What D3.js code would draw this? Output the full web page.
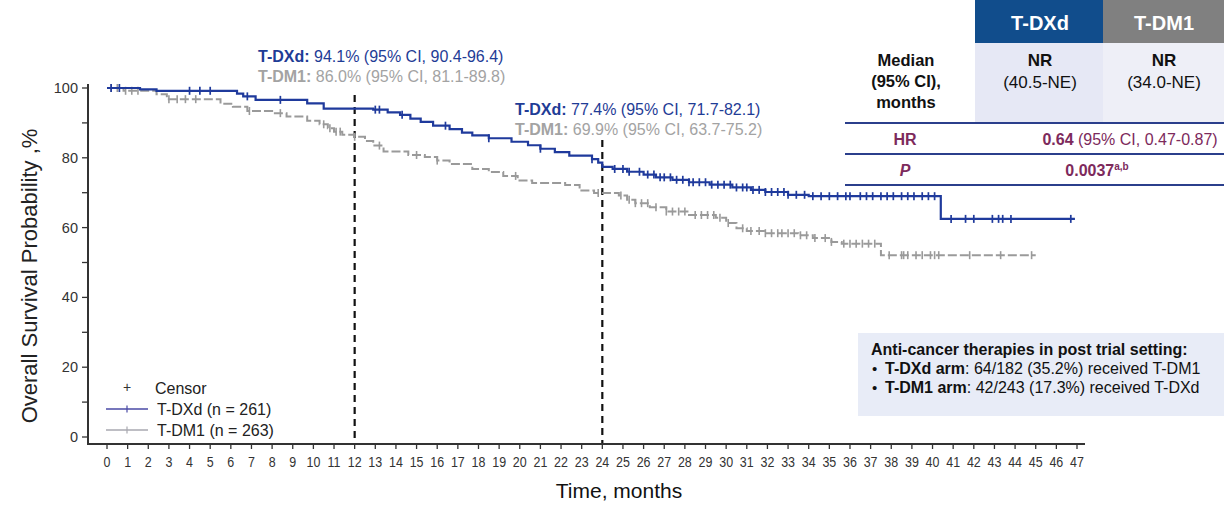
<!DOCTYPE html>
<html><head><meta charset="utf-8">
<script src="https://cdn.jsdelivr.net/npm/d3@7"></script>
<style>
html,body{margin:0;padding:0;background:#fff;}
svg{display:block;font-family:"Liberation Sans",Arial,sans-serif;}
</style></head>
<body>
<svg id="chart" width="1224" height="505"></svg>
<script>
// ---- data ----
const xTicks = d3.range(0, 48);
const yTicksMajor = [0, 20, 40, 60, 80, 100];
const yTicksMinor = [10, 30, 50, 70, 90];
const landmarks = [12, 24];

const dxdTimes = [0, 1.6, 2.4, 6.3, 6.6, 7.2, 9.7, 10.5, 12.9, 13.6, 14.2, 14.7, 15.2, 15.8, 16.6, 17.2, 17.7, 18.5, 19.6, 20.4, 21.0, 21.7, 22.4, 23.5, 23.8, 24.0, 24.5, 25.2, 26.0, 26.6, 27.4, 28.2, 29.2, 30.3, 31.2, 31.9, 33.0, 34.0, 40.4, 46.9];
const dxdSurv  = [100, 99.6, 99.2, 98.4, 97.6, 96.6, 95.6, 94.1, 93.8, 93.0, 92.3, 91.2, 90.3, 89.2, 88.2, 87.2, 86.4, 85.6, 84.6, 83.6, 82.6, 81.6, 80.6, 79.6, 78.6, 77.4, 76.8, 76.0, 75.2, 74.4, 73.7, 73.0, 72.3, 71.5, 70.8, 70.2, 69.4, 69.0, 62.5, 62.5];
const dxdCensor = [0.2, 0.6, 4.0, 4.5, 5.0, 6.8, 8.4, 13.0, 13.2, 14.3, 16.4, 18.5, 21.0, 23.5, 24.6, 25.0, 25.3, 25.8, 26.2, 26.5, 26.8, 27.0, 27.3, 27.6, 27.9, 28.2, 28.4, 28.7, 29.0, 29.3, 29.6, 29.9, 30.2, 30.5, 30.8, 31.0, 31.3, 31.6, 31.9, 32.2, 32.5, 32.8, 33.0, 33.4, 33.8, 34.2, 34.6, 35.0, 35.4, 35.8, 36.0, 36.5, 36.8, 37.1, 37.5, 37.8, 38.1, 38.5, 38.8, 39.1, 39.5, 39.8, 40.1, 40.9, 41.6, 42.0, 42.9, 43.2, 43.4, 43.8, 46.7];

const dm1Times = [0, 0.8, 2.4, 2.9, 5.5, 6.1, 6.8, 8.0, 8.7, 9.7, 10.3, 10.7, 11.0, 11.4, 12.0, 12.5, 12.9, 13.4, 14.6, 15.4, 16.0, 16.6, 17.7, 18.5, 19.2, 19.9, 20.6, 22.2, 22.9, 23.6, 24.8, 25.2, 25.6, 26.3, 27.1, 28.2, 29.5, 30.0, 30.5, 31.0, 31.9, 33.5, 34.2, 35.1, 35.6, 37.5, 45.0];
const dm1Surv  = [100, 99.2, 98.2, 96.8, 95.5, 94.6, 93.4, 92.8, 91.8, 90.6, 89.6, 88.5, 87.5, 86.6, 86.0, 84.8, 83.5, 81.8, 80.8, 80.2, 79.2, 78.2, 76.8, 75.9, 74.8, 73.5, 72.8, 72.2, 70.6, 69.9, 69.2, 68.0, 67.0, 65.8, 64.6, 63.6, 62.8, 61.3, 59.8, 59.0, 58.4, 57.8, 57.0, 55.9, 55.4, 52.1, 52.1];
const dm1Censor = [0.2, 0.5, 0.9, 1.2, 1.5, 3.0, 3.4, 3.8, 4.3, 6.9, 8.4, 10.5, 10.8, 11.1, 11.3, 12.0, 13.2, 15.0, 16.0, 19.8, 23.8, 24.9, 25.3, 25.6, 25.9, 26.2, 26.6, 27.1, 27.4, 27.7, 28.0, 28.5, 28.8, 29.1, 29.4, 29.7, 30.1, 30.8, 31.2, 31.6, 31.9, 32.2, 32.5, 32.7, 33.0, 33.3, 33.6, 33.9, 34.3, 34.8, 35.1, 35.7, 36.0, 36.3, 36.6, 36.9, 37.2, 37.9, 38.5, 38.6, 38.8, 39.2, 39.5, 39.9, 40.1, 40.3, 41.8, 43.3, 44.8];

const seriesNames = ["T-DXd (n = 261)", "T-DM1 (n = 263)"];
const tableHeaders = ["T-DXd", "T-DM1"];
const medians = [["NR", "(40.5-NE)"], ["NR", "(34.0-NE)"]];

// ---- layout ----
const svg = d3.select("#chart");
const BLUE = "#1f3a9c", GRAY = "#9a9a9a", PURPLE = "#7d2a5c", AX = "#333";
const x = d3.scaleLinear().domain([0, 47]).range([107, 1077]);
const y = d3.scaleLinear().domain([0, 100]).range([437, 88]);

// axes
const xAxisG = svg.append("g").attr("transform", "translate(0,444)");
xAxisG.append("line").attr("x1", 88).attr("x2", 1085).attr("y1", 0).attr("y2", 0).attr("stroke", AX).attr("stroke-width", 2);
xAxisG.selectAll("line.t").data(xTicks).enter().append("line").attr("class","t")
  .attr("x1", d => x(d)).attr("x2", d => x(d)).attr("y1", 0).attr("y2", 5).attr("stroke", AX).attr("stroke-width", 1.3);
xAxisG.selectAll("text").data(xTicks).enter().append("text")
  .attr("transform", d => `translate(${x(d)},23) scale(0.86,1)`).attr("text-anchor", "middle")
  .attr("font-size", 14.5).attr("fill", AX).text(d => d);

const yAxisG = svg.append("g");
yAxisG.append("line").attr("x1", 88).attr("x2", 88).attr("y1", 84).attr("y2", 445).attr("stroke", AX).attr("stroke-width", 2);
yAxisG.selectAll("line.maj").data(yTicksMajor.concat(yTicksMinor)).enter().append("line").attr("class","maj")
  .attr("x1", 82).attr("x2", 88).attr("y1", d => y(d)).attr("y2", d => y(d)).attr("stroke", AX).attr("stroke-width", 1.3);
yAxisG.selectAll("text").data(yTicksMajor).enter().append("text")
  .attr("x", 78).attr("y", d => y(d) + 5).attr("text-anchor", "end")
  .attr("font-size", 14.5).attr("fill", AX).text(d => d);

svg.append("text").attr("transform", "translate(37,276) rotate(-90)").attr("text-anchor", "middle")
  .attr("font-size", 22).attr("fill", "#222").text("Overall Survival Probability ,%");
svg.append("text").attr("x", 619).attr("y", 498).attr("text-anchor", "middle")
  .attr("font-size", 21).attr("fill", "#111").text("Time, months");

// landmark dashed lines
const lmTop = [95, 140];
svg.selectAll("line.lm").data(landmarks).enter().append("line").attr("class","lm")
  .attr("x1", d => x(d)).attr("x2", d => x(d)).attr("y1", (d,i) => lmTop[i]).attr("y2", 443)
  .attr("stroke", "#111").attr("stroke-width", 2.2).attr("stroke-dasharray", "7,5");

// curves
function pts(times, surv){ return times.map((t,i) => [t, surv[i]]); }
function stepVal(times, surv, t){ let v = surv[0]; for (let i=0;i<times.length;i++){ if (times[i] <= t) v = surv[i]; } return v; }
const line = d3.line().x(d => x(d[0])).y(d => y(d[1])).curve(d3.curveStepAfter);

svg.append("path").datum(pts(dm1Times, dm1Surv)).attr("d", line)
  .attr("fill", "none").attr("stroke", GRAY).attr("stroke-width", 2).attr("stroke-dasharray", "9,3");
svg.selectAll("line.c2").data(dm1Censor).enter().append("line").attr("class","c2")
  .attr("x1", d => x(d)).attr("x2", d => x(d))
  .attr("y1", d => y(stepVal(dm1Times, dm1Surv, d)) - 4).attr("y2", d => y(stepVal(dm1Times, dm1Surv, d)) + 4)
  .attr("stroke", GRAY).attr("stroke-width", 1.6);

svg.append("path").datum(pts(dxdTimes, dxdSurv)).attr("d", line)
  .attr("fill", "none").attr("stroke", BLUE).attr("stroke-width", 2.2);
svg.selectAll("line.c1").data(dxdCensor).enter().append("line").attr("class","c1")
  .attr("x1", d => x(d)).attr("x2", d => x(d))
  .attr("y1", d => y(stepVal(dxdTimes, dxdSurv, d)) - 4).attr("y2", d => y(stepVal(dxdTimes, dxdSurv, d)) + 4)
  .attr("stroke", BLUE).attr("stroke-width", 1.7);

// landmark annotations
function annot(xp, yp, dxdTxt, dm1Txt, dm1Label){
  const t1 = svg.append("text").attr("x", xp).attr("y", yp).attr("font-size", 16).attr("fill", "#1f3c96");
  t1.append("tspan").attr("font-weight", "bold").text("T-DXd:");
  t1.append("tspan").text(" " + dxdTxt);
  const t2 = svg.append("text").attr("x", xp).attr("y", yp + 20).attr("font-size", 16).attr("fill", "#a3a3a3");
  t2.append("tspan").attr("font-weight", "bold").text(dm1Label);
  t2.append("tspan").text(" " + dm1Txt);
}
annot(258, 62, "94.1% (95% CI, 90.4-96.4)", "86.0% (95% CI, 81.1-89.8)", "T-DM1:");
annot(515, 115, "77.4% (95% CI, 71.7-82.1)", "69.9% (95% CI, 63.7-75.2)", "T-DM1:");

// legend
svg.append("text").attr("x", 127).attr("y", 392).attr("text-anchor", "middle").attr("font-size", 14).attr("fill", "#333").text("+");
svg.append("text").attr("x", 155).attr("y", 394).attr("font-size", 16).attr("fill", "#222").text("Censor");
const legCols = ["#4a4aa6", "#a8a8b0"];
seriesNames.forEach((n, i) => {
  const yy = 409 + i * 21;
  svg.append("line").attr("x1", 106).attr("x2", 148).attr("y1", yy).attr("y2", yy).attr("stroke", legCols[i]).attr("stroke-width", 1.4);
  svg.append("line").attr("x1", 127).attr("x2", 127).attr("y1", yy - 3.5).attr("y2", yy + 3.5).attr("stroke", legCols[i]).attr("stroke-width", 1.2);
  svg.append("text").attr("x", 157).attr("y", yy + 6).attr("font-size", 16).attr("fill", "#222").text(n);
});

// table
svg.append("rect").attr("x", 975).attr("y", 43).attr("width", 128).attr("height", 79).attr("fill", "#e6e8f5");
svg.append("rect").attr("x", 1103).attr("y", 43).attr("width", 121).attr("height", 79).attr("fill", "#eeeff7");
svg.append("rect").attr("x", 975).attr("y", 0).attr("width", 128).attr("height", 43).attr("fill", "#114d8c");
svg.append("rect").attr("x", 1103).attr("y", 0).attr("width", 121).attr("height", 43).attr("fill", "#808080");
const colX = [1040, 1164];
tableHeaders.forEach((h, i) => {
  svg.append("text").attr("x", colX[i]).attr("y", 30).attr("text-anchor", "middle").attr("font-size", 20)
    .attr("font-weight", "bold").attr("fill", "#fff").text(h);
  svg.append("text").attr("x", colX[i]).attr("y", 66).attr("text-anchor", "middle").attr("font-size", 17)
    .attr("font-weight", "bold").attr("fill", "#111").text(medians[i][0]);
  svg.append("text").attr("x", colX[i]).attr("y", 88).attr("text-anchor", "middle").attr("font-size", 17)
    .attr("fill", "#111").text(medians[i][1]);
});
["Median", "(95% CI),", "months"].forEach((s, i) => {
  svg.append("text").attr("x", 906).attr("y", 66 + i * 21).attr("text-anchor", "middle").attr("font-size", 16.5)
    .attr("font-weight", "bold").attr("fill", "#111").text(s);
});
[123, 154, 185].forEach(yy => {
  svg.append("line").attr("x1", 845).attr("x2", 1224).attr("y1", yy).attr("y2", yy).attr("stroke", "#2b3f8c").attr("stroke-width", 2);
});
svg.append("text").attr("x", 905).attr("y", 145).attr("text-anchor", "middle").attr("font-size", 16)
  .attr("font-weight", "bold").attr("fill", PURPLE).text("HR");
const hr = svg.append("text").attr("x", 1130).attr("y", 145).attr("text-anchor", "middle").attr("font-size", 16).attr("fill", PURPLE);
hr.append("tspan").attr("font-weight", "bold").text("0.64");
hr.append("tspan").text(" (95% CI, 0.47-0.87)");
svg.append("text").attr("x", 905).attr("y", 176).attr("text-anchor", "middle").attr("font-size", 16)
  .attr("font-weight", "bold").attr("font-style", "italic").attr("fill", PURPLE).text("P");
const pv = svg.append("text").attr("x", 1097).attr("y", 176).attr("text-anchor", "middle").attr("font-size", 16)
  .attr("font-weight", "bold").attr("fill", PURPLE);
pv.append("tspan").text("0.0037");
pv.append("tspan").attr("font-size", 10).attr("dy", -6).text("a,b");

// post-trial box
svg.append("rect").attr("x", 858).attr("y", 333).attr("width", 366).attr("height", 83).attr("fill", "#e8ecf7");
svg.append("text").attr("x", 871).attr("y", 355).attr("font-size", 16).attr("font-weight", "bold").attr("fill", "#111")
  .text("Anti-cancer therapies in post trial setting:");
const bullets = [["T-DXd arm", ": 64/182 (35.2%) received T-DM1"], ["T-DM1 arm", ": 42/243 (17.3%) received T-DXd"]];
bullets.forEach((b, i) => {
  const yy = 374 + i * 19;
  svg.append("text").attr("x", 872).attr("y", yy).attr("font-size", 15).attr("fill", "#111").text("•");
  const t = svg.append("text").attr("x", 885).attr("y", yy).attr("font-size", 16).attr("fill", "#111");
  t.append("tspan").attr("font-weight", "bold").text(b[0]);
  t.append("tspan").text(b[1]);
});
</script>
</body></html>
